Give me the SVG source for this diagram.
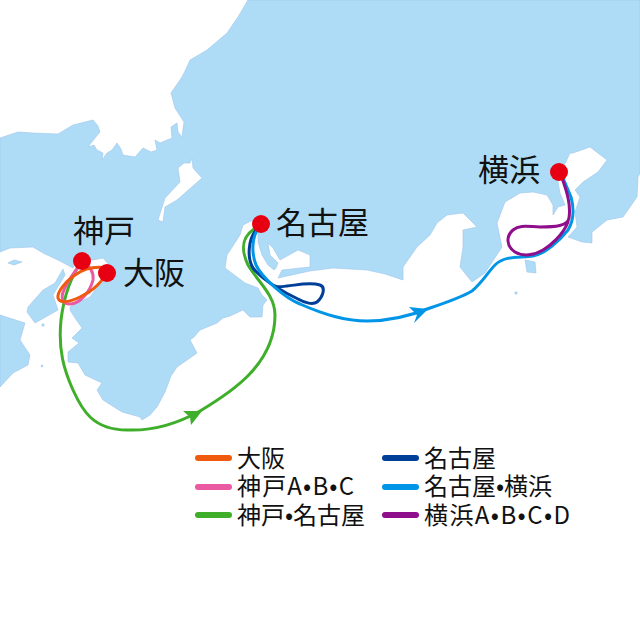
<svg xmlns="http://www.w3.org/2000/svg" width="640" height="640" viewBox="0 0 640 640">
<style>
.land{fill:#aedcf7;stroke:#9fc4ea;stroke-width:.6;stroke-linejoin:round}
.sea{fill:#fff;stroke:#9fc4ea;stroke-width:.6;stroke-linejoin:round}
.r{fill:none;stroke-width:3;stroke-linecap:round;stroke-linejoin:round}
.lg{fill:none;stroke-width:6;stroke-linecap:round}
.d{fill:#e60012}
text{font-family:"Noto Sans CJK JP","Noto Sans",sans-serif;fill:#111}
.n{font-size:31px}
.l{font-size:24px}
</style>
<rect width="640" height="640" fill="#fff"/>
<g id="map">
<path class="land" d="M248 0 L238 17 L227 33 L207 50 L190 60 L186 69 L182 77 L171 93 L175 108 L184 122 L182 137 L178 132 L177 123 L171 127 L172 138 L160 143 L155 140 L157 150 L151 152 L143 148 L135 157 L123 155 L121 149 L117 143 L112 150 L107 153 L102 160 L103 153 L97 150 L94 145 L88 147 L95 138 L100 132 L98 126 L93 120 L73 125 L58 134 L33 133 L18 132 L0 138 L0 252 L10 248 L33 247 L43 253 L60 261 L73 268 L80 258 L93 260 L103 258 L110 266 L108 278 L100 283 L90 297 L77 303 L70 307 L70 310 L75 318 L82 328 L72 338 L79 343 L68 352 L68 362 L78 363 L85 375 L102 383 L97 390 L103 400 L122 412 L140 417 L142 420 L150 415 L157 407 L165 392 L171 376 L177 367 L190 358 L197 353 L190 340 L194 337 L200 330 L217 323 L223 318 L230 316 L243 310 L250 317 L262 317 L263 305 L267 300 L262 295 L258 288 L245 283 L225 268 L227 255 L240 235 L243 225 L253 220 L258 232 L258 242 L262 255 L268 265 L274 270 L276 268 L278 263 L270 255 L268 243 L273 248 L280 260 L298 250 L310 255 L310 267 L282 270 L278 278 L310 271 L333 268 L367 270 L385 274 L403 280 L403 267 L417 247 L430 235 L437 223 L447 215 L463 213 L477 227 L463 230 L463 247 L460 267 L472 282 L485 273 L502 247 L497 223 L505 202 L520 193 L533 192 L547 195 L553 205 L553 215 L558 207 L565 205 L560 193 L558 182 L562 170 L570 153 L573 153 L590 147 L607 160 L598 172 L583 182 L575 190 L580 197 L575 212 L577 227 L568 237 L582 242 L592 243 L592 232 L607 220 L623 217 L637 197 L638 177 L640 173 L640 0 Z"/>
<path class="land" d="M0 315 L25 323 L20 340 L30 355 L28 365 L13 373 L0 387 Z"/>
<path class="land" d="M63 269 L55 283 L43 290 L28 307 L27 312 L35 323 L58 310 L53 295 L65 275 Z"/>
<path class="land" d="M525 260 L535 262 L536 273 L527 272 Z"/>
<path class="land" d="M8 263 L14 260 L22 262 L14 265 Z"/>
<circle class="land" cx="43" cy="325" r="1.2"/>
<circle class="land" cx="42" cy="366" r="1"/>
<circle class="land" cx="516" cy="293" r="1.2"/>
<path class="land" d="M87 294 L91 292 L90 294 Z"/>
<path class="sea" d="M192 158 L190 163 L184 163 L178 168 L180 182 L165 198 L158 220 L163 222 L165 207 L177 200 L202 178 L193 168 Z"/>
</g>
<g id="connectors">
<path class="r" stroke="#3fae2a" d="M82 261 C72 275 64 295 61 320 C58 350 64 370 73 390 C82 410 93 430 127 430 C150 431 175 425 200 411 C230 393 275 365 275 315 C275 295 258 282 248 265 C241 250 241 238 254 229"/>
<path class="r" stroke="#003f98" d="M256 230 C248 240 247 258 253 268 C262 280 285 293 298 299 C305 303 313 305 317 302 C323 297 326 287 320 285 C310 282 297 285 287 286 C280 287 275 288 270 283"/>
<path class="r" stroke="#0095e6" d="M259 227 C252 237 251 252 256 265 C262 278 285 298 300 304 C325 315 345 321 367 321 C390 321 410 316 430 308 C445 303 462 297 472 291 C482 283 488 272 495 265 C505 255 520 258 533 256 C545 254 560 240 568 230 C574 220 574 208 571 197 L563 178"/>
<path class="r" stroke="#8f0e8c" d="M562 178 C567 192 571 205 569 218 C568 226 555 227 540 227 C530 227 520 224 513 230 C506 236 506 246 515 252 C523 257 535 255 543 250 C550 246 563 235 568 222"/>
<path class="r" stroke="#ea5aa2" d="M82 261 C90 266 94 273 93 280 C90 292 80 303 71 304 C63 305 60 298 64 290 C68 280 75 272 82 261"/>
<path class="r" stroke="#f05a0f" d="M107 268 C95 266 85 268 75 275 C65 282 57 292 58 298 C60 304 70 302 80 297 C90 292 98 287 107 273"/>
<path d="M183 411 L202 411 L191 425 L190 417 Z" fill="#3fae2a"/>
<path d="M409 307 L428 309 L414 323 L417 315 Z" fill="#0095e6"/>
</g>
<g id="kobe"><circle class="d" cx="82" cy="261" r="9"/><text class="n" x="73" y="242">神戸</text></g>
<g id="osaka"><circle class="d" cx="107" cy="273" r="9"/><text class="n" x="123" y="284">大阪</text></g>
<g id="nagoya"><circle class="d" cx="261" cy="224" r="9"/><text class="n" x="276" y="234">名古屋</text></g>
<g id="yokohama"><circle class="d" cx="559" cy="172" r="9"/><text class="n" x="478" y="181">横浜</text></g>
<g id="legend">
<line class="lg" stroke="#f05a0f" x1="198" y1="458" x2="229" y2="458"/><text class="l" x="237" y="467">大阪</text>
<line class="lg" stroke="#ea5aa2" x1="198" y1="487" x2="229" y2="487"/><text class="l" x="237" y="495" textLength="117">神戸A•B•C</text>
<line class="lg" stroke="#3fae2a" x1="198" y1="515" x2="229" y2="515"/><text class="l" x="237" y="524" textLength="128">神戸•名古屋</text>
<line class="lg" stroke="#003f98" x1="385" y1="458" x2="416" y2="458"/><text class="l" x="424" y="467">名古屋</text>
<line class="lg" stroke="#0095e6" x1="385" y1="487" x2="416" y2="487"/><text class="l" x="424" y="495" textLength="128">名古屋•横浜</text>
<line class="lg" stroke="#8f0e8c" x1="385" y1="515" x2="416" y2="515"/><text class="l" x="424" y="524" textLength="146">横浜A•B•C•D</text>
</g>
</svg>
